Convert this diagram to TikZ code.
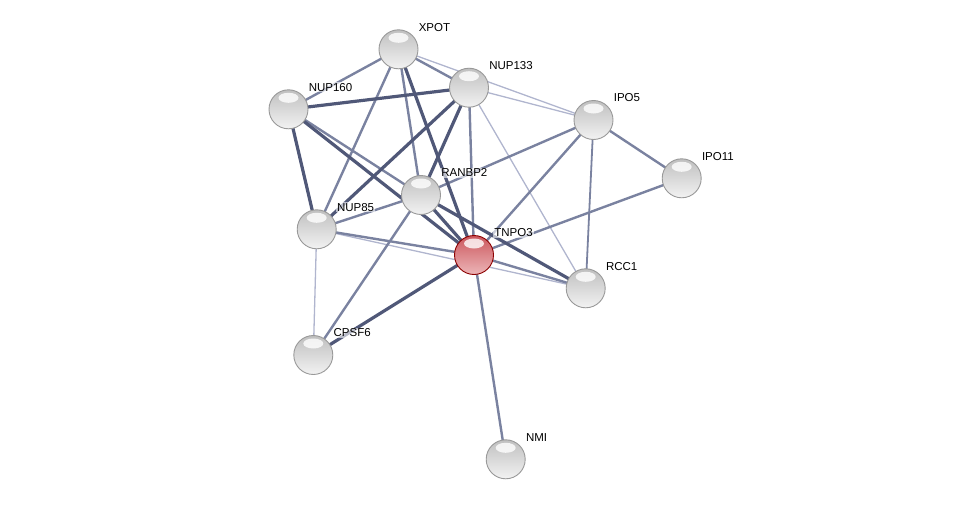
\documentclass[tikz,border=0pt]{standalone}
\usepackage{fontspec}
\setmainfont{Liberation Sans}
\usetikzlibrary{backgrounds}
\definecolor{edgeStrong}{RGB}{80,88,120}
\definecolor{edgeMid}{RGB}{122,130,160}
\definecolor{edgeWeak}{RGB}{176,181,206}
\definecolor{queryRed}{RGB}{214,92,98}

\begin{document}
\begin{tikzpicture}[x=1pt,y=-1pt,
  prot/.style={circle, minimum size=39pt, inner sep=0pt, draw=gray!80, line width=0.9pt,
    top color=gray!50, middle color=gray!38, bottom color=gray!10,
    path picture={\fill[white, opacity=0.8] ([yshift=-8pt]path picture bounding box.north) ellipse (10pt and 5pt);}},
  query/.style={prot, draw=red!55!black, top color=queryRed!95!black, middle color=queryRed!85!white, bottom color=queryRed!45!white},
  lbl/.style={anchor=base west, inner sep=1pt, font={\fontsize{11.5}{13}\selectfont}, fill=white, fill opacity=0.6, text opacity=1, xshift=5pt, yshift=4pt},
  strong/.style={edgeStrong, line width=3.2pt},
  mid/.style={edgeMid, line width=2.4pt},
  weak/.style={edgeWeak, line width=1.3pt}]
\useasboundingbox (0,0) rectangle (975,506);
% proteins
\node[prot] (xpot) at (398.5,49.3) {};
\node[prot] (nup133) at (469,87.7) {};
\node[prot] (nup160) at (288.5,109.3) {};
\node[prot] (ipo5) at (593.5,120) {};
\node[prot] (ipo11) at (681.7,178.3) {};
\node[prot] (ranbp2) at (421,195) {};
\node[prot] (nup85) at (316.7,229.3) {};
\node[query] (tnpo3) at (474,255) {};
\node[prot] (rcc1) at (585.7,288.3) {};
\node[prot] (cpsf6) at (313.3,355) {};
\node[prot] (nmi) at (505.7,459.3) {};
% names
\node[lbl] (xpotL) at (xpot.north east) {XPOT};
\node[lbl] (nup133L) at (nup133.north east) {NUP133};
\node[lbl] (nup160L) at (nup160.north east) {NUP160};
\node[lbl] (ipo5L) at (ipo5.north east) {IPO5};
\node[lbl] (ipo11L) at (ipo11.north east) {IPO11};
\node[lbl] (ranbp2L) at (ranbp2.north east) {RANBP2};
\node[lbl] (nup85L) at (nup85.north east) {NUP85};
\node[lbl] (tnpo3L) at (tnpo3.north east) {TNPO3};
\node[lbl] (rcc1L) at (rcc1.north east) {RCC1};
\node[lbl] (cpsf6L) at (cpsf6.north east) {CPSF6};
\node[lbl] (nmiL) at (nmi.north east) {NMI};
% interactions, behind the balls
\begin{scope}[on background layer]
\draw[weak] (xpot.center) -- (ipo5.center);
\draw[weak] (nup133.center) -- (ipo5.center);
\draw[weak] (nup133.center) -- (rcc1.center);
\draw[weak] (nup85.center) -- (rcc1.center);
\draw[weak] (nup85.center) -- (cpsf6.center);
\draw[mid] (xpot.center) -- (nup160.center);
\draw[mid] (xpot.center) -- (nup133.center);
\draw[mid] (xpot.center) -- (nup85.center);
\draw[mid] (xpot.center) -- (ranbp2.center);
\draw[mid] (nup160.center) -- (ranbp2.center);
\draw[mid] (nup85.center) -- (ranbp2.center);
\draw[mid] (nup85.center) -- (tnpo3.center);
\draw[mid] (nup133.center) -- (tnpo3.center);
\draw[mid] (ranbp2.center) -- (ipo5.center);
\draw[mid] (ranbp2.center) -- (cpsf6.center);
\draw[mid] (tnpo3.center) -- (ipo5.center);
\draw[mid] (tnpo3.center) -- (ipo11.center);
\draw[mid] (tnpo3.center) -- (rcc1.center);
\draw[mid] (tnpo3.center) -- (nmi.center);
\draw[mid] (ipo5.center) -- (ipo11.center);
\draw[mid, line width=1.8pt] (ipo5.center) -- (rcc1.center);
\draw[strong] (nup160.center) -- (nup133.center);
\draw[strong] (nup160.center) -- (nup85.center);
\draw[strong] (nup160.center) -- (tnpo3.center);
\draw[strong] (nup133.center) -- (nup85.center);
\draw[strong] (nup133.center) -- (ranbp2.center);
\draw[strong] (xpot.center) -- (tnpo3.center);
\draw[strong] (ranbp2.center) -- (tnpo3.center);
\draw[strong] (ranbp2.center) -- (rcc1.center);
\draw[strong] (tnpo3.center) -- (cpsf6.center);
\end{scope}
\end{tikzpicture}
\end{document}
